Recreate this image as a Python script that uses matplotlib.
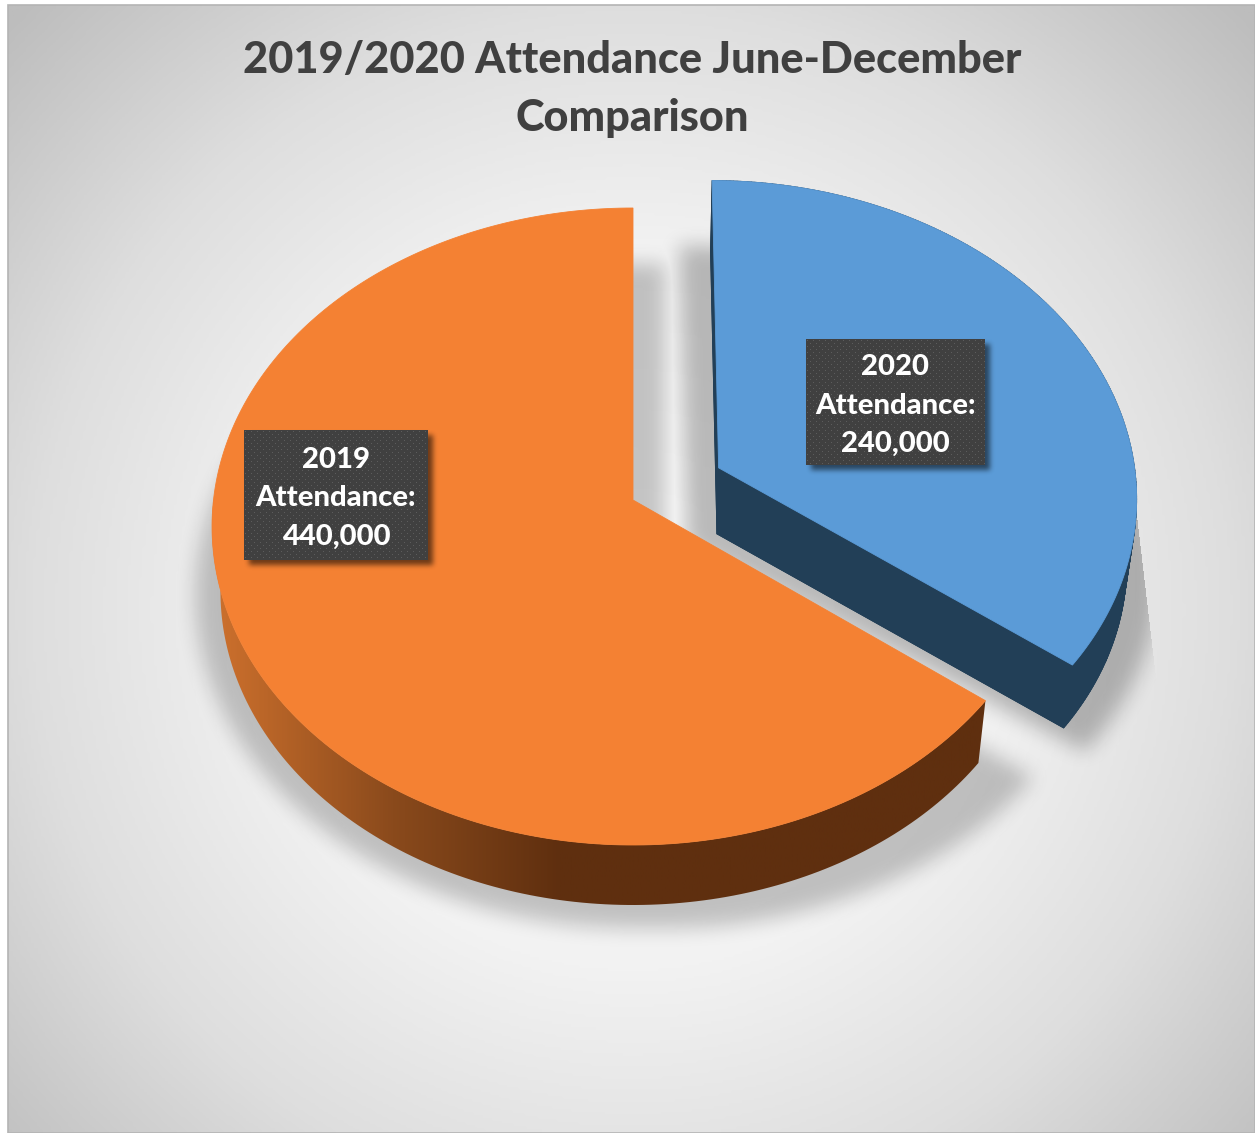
import numpy as np
import matplotlib
matplotlib.use("Agg")
import matplotlib.pyplot as plt
from matplotlib.colors import LinearSegmentedColormap
from matplotlib.path import Path
from matplotlib.patches import Polygon, Rectangle
from matplotlib.collections import PolyCollection

plt.rcParams['font.family'] = ['Lato', 'DejaVu Sans']

# data
years = ["2020", "2019"]
attendance = [240000, 440000]
title = "2019/2020 Attendance June-December\nComparison"

W, H = 1255, 1133
L, T = 8, 5
CX, CY = 633, 500
A, B, K = 419.5, 316.3, 0.0832
EXPLODE = 0.23

grey_map = LinearSegmentedColormap.from_list(
    "bg", [(0, "#fbfbfb"), (0.42, "#f2f2f2"), (0.7, "#dedede"), (1, "#bdbdbd")])
side_map = LinearSegmentedColormap.from_list(
    "side", [(0, "#c96e2c"), (0.5, "#8a4a1c"), (1, "#5f2f0f")])


def project(u, v):
    d = 1 + K * v
    return CX + A * u / d, CY - B * v / d


def wedge_arc(start, stop, offset=0.0, n=240):
    # angles clockwise from twelve o'clock
    t = np.radians(np.linspace(start, stop, n))
    mid = np.radians((start + stop) / 2)
    u = np.sin(t) + offset * np.sin(mid)
    v = np.cos(t) + offset * np.cos(mid)
    ax_, ay_ = project(offset * np.sin(mid), offset * np.cos(mid))
    x, y = project(u, v)
    return (ax_, ay_), x, y


def lower(x, y):
    depth = 60 + (845 - y) * 0.016
    return CX + (x - CX) * 0.98, y + depth


def box_blur(a, r, passes=3):
    for axis in (0, 1):
        for _ in range(passes):
            c = np.cumsum(np.insert(a, 0, 0, axis=axis), axis=axis)
            n = a.shape[axis]
            hi = np.clip(np.arange(n) + r + 1, 0, n)
            lo = np.clip(np.arange(n) - r, 0, n)
            a = (np.take(c, hi, axis=axis) - np.take(c, lo, axis=axis)) / (2 * r + 1)
    return a


def poly_mask(xy):
    xx, yy = np.meshgrid(np.arange(W) + 0.5, np.arange(H) + 0.5)
    pts = np.column_stack([xx.ravel(), yy.ravel()])
    return Path(xy).contains_points(pts).reshape(H, W).astype(float)


def grown(xy, fx, fy, dy):
    # footprint blown up around its own middle, for the shadow
    mid = (xy.min(axis=0) + xy.max(axis=0)) / 2
    out = mid + (xy - mid) * [fx, fy]
    out[:, 1] += dy
    return out


fig = plt.figure(figsize=(W / 100, H / 100), dpi=100)
ax = fig.add_axes([0, 0, 1, 1])
ax.set_xlim(0, W)
ax.set_ylim(H, 0)
ax.axis("off")

# chart area background
xx, yy = np.meshgrid(np.linspace(L, W, 400), np.linspace(T, H, 400))
r = np.hypot((xx - 632) / 860, (yy - 610) / 860)
ax.imshow(r, cmap=grey_map, vmin=0, vmax=1, extent=(L, W, H, T), aspect="auto",
          interpolation="bilinear", zorder=0)
ax.add_patch(Rectangle((L, T), W - L, H - T, fill=False, ec="#b4b4b4", lw=1.2, zorder=1))
ax.set_xlim(0, W)
ax.set_ylim(H, 0)

# slice angles come from the values
total = sum(attendance)
blue_sweep = 360 * attendance[0] / total

(ox, oy), ox_arc, oy_arc = wedge_arc(blue_sweep, 360)
(bx, by), bx_arc, by_arc = wedge_arc(0, blue_sweep, EXPLODE)

orange_top = np.column_stack([np.r_[ox, ox_arc], np.r_[oy, oy_arc]])
blue_top = np.column_stack([np.r_[bx, bx_arc], np.r_[by, by_arc]])
orange_bot = np.column_stack(lower(orange_top[:, 0], orange_top[:, 1]))
blue_bot = np.column_stack(lower(blue_top[:, 0], blue_top[:, 1]))

# soft shadows
mask_o = poly_mask(grown(orange_bot, 1.065, 1.06, 4))
mask_o = np.maximum(mask_o, np.roll(mask_o, 30, axis=1))
mask_b = poly_mask(grown(blue_bot, 1.15, 1.06, 9))
sh_o = box_blur(mask_o, 9) * 0.21
sh_b = box_blur(mask_b, 9) * 0.25
gx, gy = np.meshgrid(np.arange(W), np.arange(H))
# hard cut on the right of the blue slice
sh_b[(gx > 1137 + (gy - 520) * 0.118) & (gx > 1100)] = 0
sh_b[(gx > 900) & (gy < 520)] = 0
shadow = np.maximum(sh_o, sh_b)
rgba = np.zeros((H, W, 4))
rgba[..., 3] = shadow
rgba[:T, :, 3] = 0
rgba[:, :L, 3] = 0
ax.imshow(rgba, extent=(0, W, H, 0), aspect="auto", zorder=2)

# blue slice walls
n = len(blue_top)
quads = [[blue_top[i], blue_top[(i + 1) % n], blue_bot[(i + 1) % n], blue_bot[i]] for i in range(n)]
ax.add_collection(PolyCollection(quads, facecolors="#223f57", edgecolors="#223f57", lw=0.6, zorder=3))
ax.add_patch(Polygon(blue_bot, closed=True, fc="#223f57", ec="#223f57", lw=0.6, zorder=3))

# orange rim with left to right shading
rim_top = orange_top[1:]
rim_bot = orange_bot[1:]
rim = Polygon(np.vstack([rim_top, rim_bot[::-1]]), closed=True, fc="none", ec="none", zorder=3)
ax.add_patch(rim)
grad = ax.imshow(np.clip((np.linspace(205, 1000, 500) - 225) / (560 - 225), 0, 1)[None, :],
                 cmap=side_map, vmin=0, vmax=1, extent=(205, 1000, 930, 500), aspect="auto", zorder=3.5)
grad.set_clip_path(rim)
ax.set_xlim(0, W)
ax.set_ylim(H, 0)

ax.add_patch(Polygon(orange_top, closed=True, fc="#f48133", ec="#f48133", lw=0.6, zorder=4))
ax.add_patch(Polygon(blue_top, closed=True, fc="#5b9bd7", ec="#5b9bd7", lw=0.6, zorder=4))

# data labels
boxes = [(806, 339, 179, 126), (244, 430, 184, 130)]
for year, value, (x0, y0, w, h) in zip(years, attendance, boxes):
    pad = 14
    hs = np.zeros((h + 2 * pad, w + 2 * pad))
    hs[pad:pad + h, pad:pad + w] = 1
    hs = box_blur(hs, 2)
    sh = np.zeros(hs.shape + (4,))
    sh[..., 3] = hs * 0.55
    ax.imshow(sh, extent=(x0 - pad + 5, x0 + w + pad + 5, y0 + h + pad + 5, y0 - pad + 5),
              aspect="auto", zorder=5)
    tex = np.full((h, w), 0.25)
    for j in range(1, h, 3):
        start = 1 if (j // 3) % 2 == 0 else 4
        tex[j, start::6] = 0.36
    ax.imshow(tex, cmap="gray", vmin=0, vmax=1, extent=(x0, x0 + w, y0 + h, y0), aspect="auto",
              interpolation="nearest", zorder=6)
    ax.text(x0 + w / 2, y0 + h / 2 + 3.5, f"{year}\nAttendance:\n{value:,}", color="white", fontsize=21.1,
            fontweight="black", ha="center", va="center", linespacing=1.6, zorder=7)
ax.set_xlim(0, W)
ax.set_ylim(H, 0)

ax.text(632.5, 89, title, color="#404040", fontsize=31.2, fontweight="black",
        ha="center", va="center", linespacing=1.54, zorder=7)

fig.savefig("out.png", dpi=100, facecolor="white")
